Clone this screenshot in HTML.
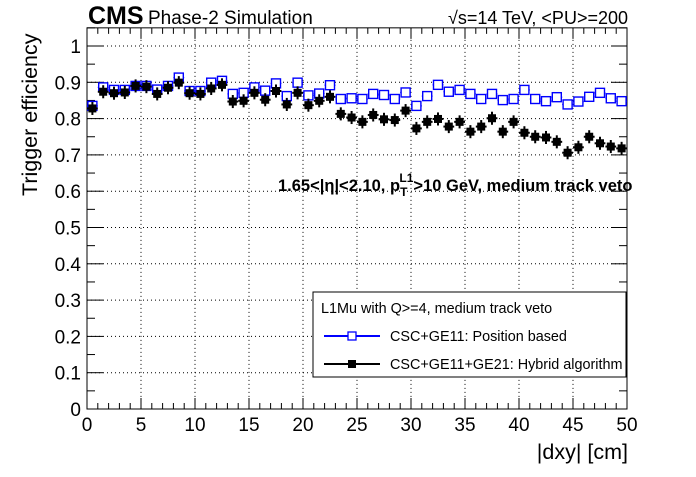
<!DOCTYPE html>
<html><head><meta charset="utf-8"><style>
body{margin:0;background:#fff}
svg text{font-family:"Liberation Sans",sans-serif}
</style></head><body>
<svg id="c" width="696" height="472" xmlns="http://www.w3.org/2000/svg">
<rect width="696" height="472" fill="#fff"/>
<g id="grid"></g><g id="axes"></g><g id="marks"></g>
<text x="88" y="24" font-size="25" font-weight="bold">CMS</text>
<text x="148" y="24" font-size="19">Phase-2 Simulation</text>
<text x="628" y="24" font-size="18" text-anchor="end">√s=14 TeV, &lt;PU&gt;=200</text>
<text x="278" y="191" font-size="16.5" font-weight="bold">1.65&lt;|η|&lt;2.10, p<tspan font-size="12" dy="5">T</tspan><tspan font-size="12" dx="-8" dy="-14">L1</tspan><tspan font-size="16.5" dy="9">&gt;10 GeV, medium track veto</tspan></text>
<text transform="translate(37,196) rotate(-90)" font-size="21.5">Trigger efficiency</text>
<text x="628" y="459" font-size="21.5" text-anchor="end">|dxy| [cm]</text>
<g>
<rect x="313" y="292" width="313" height="85" fill="#fff" stroke="#000" stroke-width="1"/>
<text x="321" y="313" font-size="14.4">L1Mu with Q&gt;=4, medium track veto</text>
<line x1="324" y1="336" x2="380" y2="336" stroke="#0000ff" stroke-width="2"/>
<rect x="348" y="332" width="8" height="8" fill="#fff" stroke="#0000ff" stroke-width="1.3"/>
<text x="390" y="341" font-size="14.4">CSC+GE11: Position based</text>
<line x1="324" y1="364" x2="380" y2="364" stroke="#000" stroke-width="2"/>
<rect x="348" y="360" width="8" height="8" fill="#000"/>
<text x="390" y="369" font-size="14.4">CSC+GE11+GE21: Hybrid algorithm</text>
</g>
</svg>
<script>
const xTicks=[0,5,10,15,20,25,30,35,40,45,50];
const yTicks=[0,0.1,0.2,0.3,0.4,0.5,0.6,0.7,0.8,0.9,1];
const yTickLabels=["0","0.1","0.2","0.3","0.4","0.5","0.6","0.7","0.8","0.9","1"];
const binCenters=[];for(let i=0;i<50;i++)binCenters.push(i+0.5);
const positionBased=[0.835,0.886,0.879,0.879,0.890,0.890,0.880,0.890,0.913,0.876,0.876,0.899,0.904,0.868,0.871,0.886,0.877,0.897,0.862,0.899,0.864,0.869,0.892,0.854,0.856,0.854,0.868,0.865,0.854,0.872,0.835,0.862,0.893,0.874,0.879,0.868,0.854,0.868,0.851,0.854,0.879,0.854,0.848,0.859,0.839,0.847,0.860,0.871,0.856,0.848];
const hybrid=[0.828,0.874,0.870,0.872,0.890,0.888,0.868,0.885,0.899,0.870,0.868,0.883,0.893,0.847,0.849,0.871,0.852,0.876,0.839,0.871,0.837,0.849,0.860,0.813,0.803,0.791,0.810,0.798,0.796,0.822,0.773,0.791,0.799,0.778,0.791,0.764,0.778,0.801,0.764,0.791,0.761,0.750,0.748,0.736,0.706,0.721,0.750,0.732,0.723,0.718];
const X0=87,X1=627,Y0=409,Y1=46;
const sx=v=>X0+(v-0)/50*(X1-X0);
const sy=v=>Y0-v*(Y0-Y1);
const NS="http://www.w3.org/2000/svg";
function mk(p,t,a){const e=document.createElementNS(NS,t);for(const k in a)e.setAttribute(k,a[k]);p.appendChild(e);return e;}
const grid=document.getElementById('grid'),axes=document.getElementById('axes'),marks=document.getElementById('marks');
const YT=sy(1.05);
xTicks.forEach(t=>{if(t>0&&t<50){const l=mk(grid,'line',{x1:sx(t),x2:sx(t),y1:YT,y2:Y0,stroke:'#000','stroke-dasharray':'1,3'});}});
yTicks.forEach(t=>{if(t>0){const l=mk(grid,'line',{x1:X0,x2:X1,y1:sy(t),y2:sy(t),stroke:'#000','stroke-dasharray':'1,3'});}});
const fr=mk(axes,'rect',{x:X0,y:YT,width:X1-X0,height:Y0-YT,fill:'none',stroke:'#000'});

for(let v=0;v<=50;v+=1){const big=v%5===0;const L=big?11:6;
mk(axes,'line',{x1:sx(v),x2:sx(v),y1:Y0,y2:Y0-L,stroke:'#000'});mk(axes,'line',{x1:sx(v),x2:sx(v),y1:YT,y2:YT+L,stroke:'#000'});}
for(let i=0;i<=21;i++){const v=i*0.05;if(v>1.05)break;const big=i%2===0;const L=big?16:8;
mk(axes,'line',{x1:X0,x2:X0+L,y1:sy(v),y2:sy(v),stroke:'#000'});mk(axes,'line',{x1:X1,x2:X1-L,y1:sy(v),y2:sy(v),stroke:'#000'});}
xTicks.forEach(t=>{const e=mk(axes,'text',{x:sx(t),y:Y0+22,'font-size':19,'text-anchor':'middle'});e.textContent=t;});
yTicks.forEach((t,i)=>{const e=mk(axes,'text',{x:X0-6,y:sy(t)+7,'font-size':19,'text-anchor':'end'});e.textContent=yTickLabels[i];});
const err=0.012;
binCenters.forEach((c,i)=>{const x=sx(c);
let v=positionBased[i],y=sy(v);
const g1=mk(marks,'g',{});
mk(g1,'line',{x1:sx(c-0.5),x2:sx(c+0.5),y1:y,y2:y,stroke:'#0000ff','stroke-width':1.3});
mk(g1,'line',{x1:x,x2:x,y1:sy(v+err),y2:sy(v-err),stroke:'#0000ff','stroke-width':1.3});
mk(g1,'rect',{x:x-4.5,y:y-4.5,width:9,height:9,fill:'#fff',stroke:'#0000ff','stroke-width':1.4});
v=hybrid[i];y=sy(v);
const g2=mk(marks,'g',{});
mk(g2,'line',{x1:sx(c-0.5),x2:sx(c+0.5),y1:y,y2:y,stroke:'#000','stroke-width':2});
mk(g2,'line',{x1:x,x2:x,y1:sy(v+0.018),y2:sy(v-0.018),stroke:'#000','stroke-width':2});
mk(g2,'rect',{x:x-4,y:y-4,width:8,height:8,fill:'#000'});
});
</script>
</body></html>
